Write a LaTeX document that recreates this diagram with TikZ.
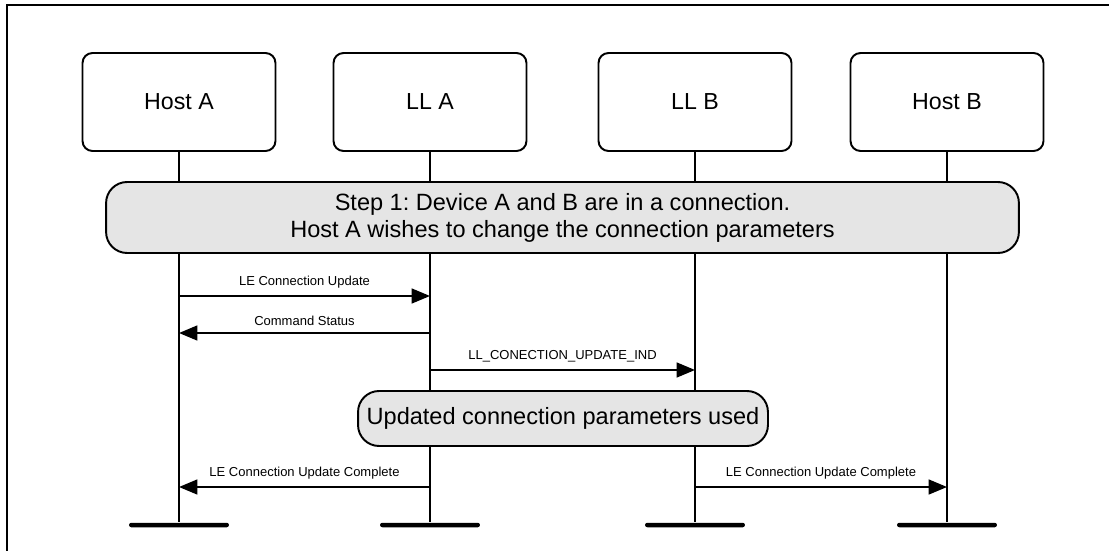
\documentclass[tikz,border=0pt]{standalone}
\usepackage{fontspec}
\setmainfont{Liberation Sans}
\usepackage{xcolor}
\usepackage{tikz}
\usetikzlibrary{arrows.meta, positioning}
\definecolor{boxgray}{RGB}{229,229,229}
\frenchspacing

\begin{document}
\begin{tikzpicture}[
    x=0.02cm, y=-0.02cm,
    actor/.style={rectangle, draw=black, line width=1.1pt, rounded corners=0.2cm, fill=white, align=center, minimum width=3.86cm, minimum height=1.96cm, font=\fontsize{13.2}{15.5}\selectfont},
    phase/.style={rectangle, draw=black, line width=1.1pt, rounded corners=0.42cm, fill=boxgray, align=center, inner sep=0pt, font=\fontsize{13.4}{15.4}\selectfont},
    bar/.style={rectangle, fill=black, rounded corners=0.045cm, inner sep=0pt, minimum width=2cm, minimum height=0.09cm},
    lifeline/.style={line width=1.1pt},
    msg/.style={-{Triangle[length=10.5pt, width=8.5pt]}, line width=1.1pt},
    label/.style={font=\fontsize{7.4}{9}\selectfont, above=0.5pt}
]
\useasboundingbox (0,0) rectangle (1109,551);
\clip (0,0) rectangle (1109,551);
\draw[line width=1.5pt] (7,5) rectangle (1130,570);

% participants
\node[actor] (hostA) at (179,102) {Host A};
\node[actor] (llA) at (430,102) {LL A};
\node[actor] (llB) at (695,102) {LL B};
\node[actor] (hostB) at (947,102) {Host B};

\node[bar] (hostAbar) at (179,525) {};
\node[bar] (llAbar) at (430,525) {};
\node[bar] (llBbar) at (695,525) {};
\node[bar] (hostBbar) at (947,525) {};

\draw[lifeline] (hostA) -- (hostAbar);
\draw[lifeline] (llA) -- (llAbar);
\draw[lifeline] (llB) -- (llBbar);
\draw[lifeline] (hostB) -- (hostBbar);

% phases
\node[phase, minimum width=18.26cm, minimum height=1.42cm] (step) at (562.5,217.5) {Step 1: Device A and B are in a connection.\\Host A wishes to change the connection parameters};
\node[phase, minimum width=8.2cm, minimum height=1.1cm] (used) at (563,418.5) {Updated connection parameters used};

% messages
\coordinate (m1) at (0,296);
\coordinate (m2) at (0,333);
\coordinate (m3) at (0,370);
\coordinate (m4) at (0,487);

\draw[msg] (hostA |- m1) -- (llA |- m1) node[midway, label] {LE Connection Update};
\draw[msg] (llA |- m2) -- (hostA |- m2) node[midway, label] {Command Status};
\draw[msg] (llA |- m3) -- (llB |- m3) node[midway, label] {LL\_CONECTION\_UPDATE\_IND};
\draw[msg] (llA |- m4) -- (hostA |- m4) node[midway, label] {LE Connection Update Complete};
\draw[msg] (llB |- m4) -- (hostB |- m4) node[midway, label] {LE Connection Update Complete};
\end{tikzpicture}
\end{document}
